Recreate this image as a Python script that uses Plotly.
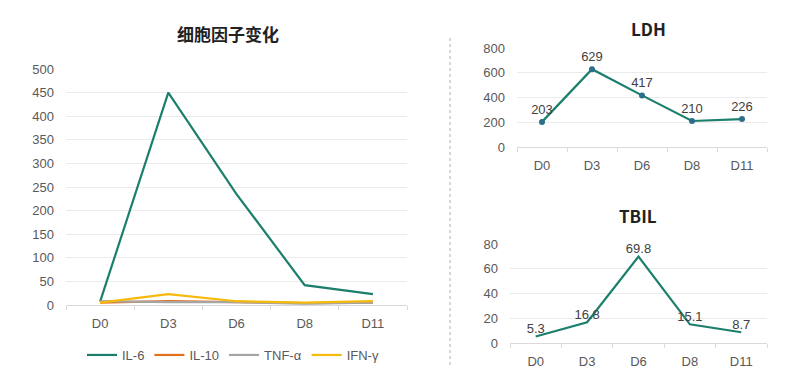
import plotly.graph_objects as go

days = ["D0", "D3", "D6", "D8", "D11"]
il6 = [7, 450, 235, 42, 23]
il10 = [5, 8, 6, 4, 5]
tnfa = [8, 6, 6, 3, 5]
ifng = [5, 23, 8, 5, 8]
ldh = [203, 629, 417, 210, 226]
tbil = [5.3, 16.8, 69.8, 15.1, 8.7]

GREEN = "#1b7f6c"
TXT = "#595959"
GRID = "#ebebeb"
FONT = "Liberation Sans, Arial, sans-serif"

fig = go.Figure()
for name, vals, col in [("IL-6", il6, GREEN), ("IL-10", il10, "#e2701c"),
                        ("TNF-α", tnfa, "#a5a5a5"), ("IFN-γ", ifng, "#f6b90c")]:
    fig.add_trace(go.Scatter(x=days, y=vals, name=name, mode="lines",
                             line=dict(color=col, width=2.2), xaxis="x", yaxis="y"))

fig.add_trace(go.Scatter(x=days, y=ldh, mode="lines+markers+text", text=[str(v) for v in ldh],
                         textposition="top center", textfont=dict(size=13, color="#404040", family=FONT),
                         line=dict(color=GREEN, width=2.2), marker=dict(color="#2b6f8a", size=6),
                         showlegend=False, xaxis="x2", yaxis="y2", cliponaxis=False))
fig.add_trace(go.Scatter(x=days, y=tbil, mode="lines+text", text=[str(v) for v in tbil],
                         textposition="top center", textfont=dict(size=13, color="#404040", family=FONT),
                         line=dict(color=GREEN, width=2.2),
                         showlegend=False, xaxis="x3", yaxis="y3", cliponaxis=False))

def xax(domain, anchor):
    return dict(domain=domain, anchor=anchor, type="category", range=[-0.5, 4.5], showgrid=False,
                showline=True, linecolor="#d9d9d9", linewidth=1, ticks="outside",
                tickson="boundaries", ticklen=4, tickcolor="#d9d9d9", ticklabelstandoff=6,
                tickfont=dict(size=13, color=TXT, family=FONT), fixedrange=True, zeroline=False,
                automargin=False)

def yax(domain, anchor, rng, dt):
    return dict(domain=domain, anchor=anchor, range=rng, dtick=dt, showgrid=True,
                gridcolor=GRID, gridwidth=1, zeroline=False, showline=False,
                tickfont=dict(size=13, color=TXT, family=FONT), ticks="",
                ticklabelstandoff=11, automargin=False, fixedrange=True)

W, H = 811, 385
fig.update_layout(
    width=W, height=H, margin=dict(l=0, r=0, t=0, b=0, autoexpand=False),
    paper_bgcolor="white", plot_bgcolor="white",
    font=dict(family=FONT, color=TXT, size=13),
    xaxis=xax([66 / W, 407 / W], "y"),
    yaxis=yax([1 - 305 / H, 1 - 69 / H], "x", [0, 500], 50),
    xaxis2=xax([517 / W, 767 / W], "y2"),
    yaxis2=yax([1 - 147 / H, 1 - 48 / H], "x2", [0, 800], 200),
    xaxis3=xax([510 / W, 767 / W], "y3"),
    yaxis3=yax([1 - 343 / H, 1 - 244 / H], "x3", [0, 80], 20),
    legend=dict(orientation="h", x=233 / W, xanchor="center", y=1 - 355 / H, yanchor="middle",
                font=dict(size=13, color=TXT, family=FONT), itemwidth=30, tracegroupgap=0,
                bgcolor="rgba(0,0,0,0)"),
    showlegend=True,
)

for txt, x, y in [("细胞因子变化", 228, 33), ("LDH", 648, 28), ("TBIL", 638, 215)]:
    fig.add_annotation(text="<b>" + txt + "</b>", x=x / W, y=1 - y / H, xref="paper", yref="paper",
                       showarrow=False, xanchor="center", yanchor="middle",
                       font=dict(size=17, color="#222222", family="Noto Sans CJK SC, Liberation Sans, sans-serif"))

fig.add_shape(type="line", xref="paper", yref="paper", x0=450 / W, x1=450 / W,
              y0=1 - 365 / H, y1=1 - 37 / H, line=dict(color="#b0b0b0", width=1, dash="dot"))

fig.write_html("out.html", config={"displayModeBar": False},
               post_script="document.body.style.margin='0px';")
